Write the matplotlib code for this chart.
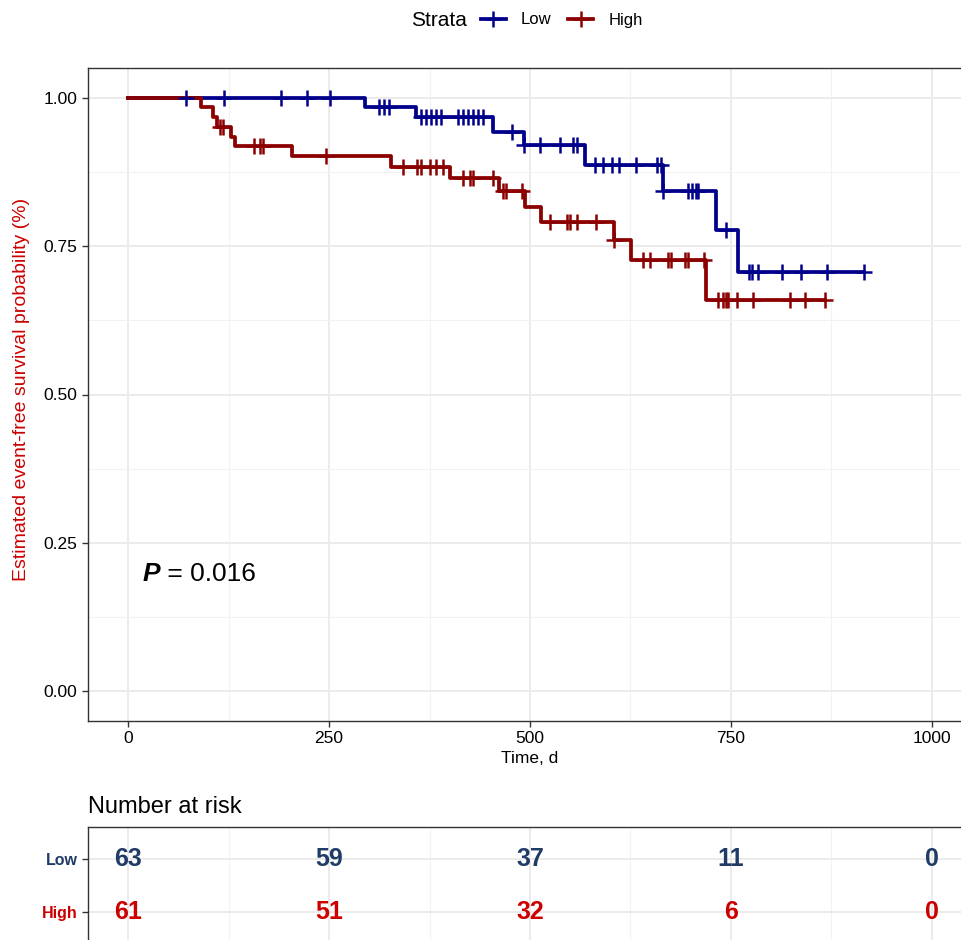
import numpy as np
import matplotlib
matplotlib.use("Agg")
import matplotlib.pyplot as plt
from matplotlib.lines import Line2D

plt.rcParams['font.family'] = ['Liberation Sans', 'DejaVu Sans']

# Kaplan-Meier steps (time in days, survival)
low_times = [0, 295, 358, 454, 493, 568, 665, 731, 759, 916]
low_surv = [1.0, 0.984, 0.967, 0.943, 0.920, 0.886, 0.843, 0.777, 0.707, 0.707]
low_censor = [72, 119, 190, 223, 251, 312, 318, 325, 364, 371, 377, 383, 389,
              410, 417, 423, 429, 435, 442, 478, 493, 513, 537, 553, 558, 581,
              591, 602, 611, 632, 658, 663, 665, 697, 701, 706, 709, 744, 773,
              776, 784, 813, 837, 869, 916]

high_times = [0, 91, 105, 111, 128, 133, 204, 327, 400, 461, 494, 514, 604,
              626, 719, 867]
high_surv = [1.0, 0.984, 0.967, 0.951, 0.934, 0.918, 0.901, 0.884, 0.865,
             0.843, 0.816, 0.790, 0.761, 0.726, 0.659, 0.659]
high_censor = [114, 118, 157, 164, 168, 246, 342, 360, 364, 375, 383, 392,
               417, 425, 429, 454, 466, 470, 490, 525, 546, 550, 558, 582,
               604, 641, 649, 672, 676, 693, 697, 716, 734, 740, 744, 747,
               757, 778, 823, 842, 867]

risk_times = [0, 250, 500, 750, 1000]
risk_low = [63, 59, 37, 11, 0]
risk_high = [61, 51, 32, 6, 0]

strata = ['Low', 'High']
line_cols = ['#00008B', '#8B0000']
table_cols = ['#1F3B66', '#CC0000']


def surv_at(times, surv, t):
    idx = np.searchsorted(times, t, side='right') - 1
    return np.array(surv)[idx]


fig = plt.figure(figsize=(9.62, 9.40), dpi=100)
W, H = 962, 940

ax = fig.add_axes([88 / W, 1 - 721 / H, 884 / W, 653 / H])
ax.set_xlim(-50, 1050)
ax.set_ylim(-0.05, 1.05)
ax.set_xticks([0, 250, 500, 750, 1000])
ax.set_xticks([125, 375, 625, 875], minor=True)
ax.set_yticks([0, 0.25, 0.5, 0.75, 1.0])
ax.set_yticks([0.125, 0.375, 0.625, 0.875], minor=True)
ax.set_yticklabels(['0.00', '0.25', '0.50', '0.75', '1.00'])
ax.grid(which='major', color='#EBEBEB', lw=1.4)
ax.grid(which='minor', color='#F2F2F2', lw=0.8)
ax.set_axisbelow(True)
ax.tick_params(which='major', labelsize=12.5, length=4, width=1, color='#333333', labelcolor='black')
ax.tick_params(which='minor', length=0)
ax.patch.set_edgecolor('none')
for s in ax.spines.values():
    s.set_color('#333333')
    s.set_linewidth(1)
ax.spines['right'].set_visible(False)

for times, surv, col in [(low_times, low_surv, line_cols[0]),
                         (high_times, high_surv, line_cols[1])]:
    ax.step(times, surv, where='post', color=col, lw=2.7, zorder=3)
for times, surv, cens, col in [(low_times, low_surv, low_censor, line_cols[0]),
                               (high_times, high_surv, high_censor, line_cols[1])]:
    ax.plot(cens, surv_at(times, surv, cens), ls='none', marker='+',
            ms=11, mew=1.8, color=col, zorder=4)

ax.set_xlabel('Time, d', fontsize=12.5, labelpad=3)
ax.set_ylabel('Estimated event-free survival probability (%)', fontsize=14,
              color='#CC0000')
ax.yaxis.set_label_coords((30 - 88) / 884, 0.508)

pt = ax.text(18, 0.197, 'P', fontsize=19, fontweight='bold', style='italic',
             va='center')
ax.annotate(' = 0.016', xy=(1, 0), xycoords=pt, fontsize=19, va='bottom')

# legend on top
fig.text(411 / W, 1 - 20 / H, 'Strata', fontsize=15, va='center', ha='left')
handles = [Line2D([0], [0], color=c, lw=2.7, marker='+', ms=11, mew=1.8)
           for c in line_cols]
fig.legend(handles, strata, loc='center left', bbox_to_anchor=(481 / W, 1 - 20 / H),
           ncol=2, frameon=False, fontsize=12, handlelength=1.5,
           handletextpad=0.9, columnspacing=1.0, borderpad=0, borderaxespad=0)

# risk table
tax = fig.add_axes([88 / W, 1 - 944 / H, 884 / W, 117 / H])
tax.set_xlim(-50, 1050)
tax.set_ylim(2.6, 0.4)
tax.set_xticks([0, 250, 500, 750, 1000])
tax.set_xticks([125, 375, 625, 875], minor=True)
tax.set_xticklabels([])
tax.set_yticks([1, 2])
tax.set_yticklabels(strata)
for lab, c in zip(tax.get_yticklabels(), table_cols):
    lab.set_color(c)
    lab.set_fontweight('bold')
    lab.set_fontsize(11.5)
tax.grid(which='major', color='#EBEBEB', lw=1.4)
tax.grid(which='minor', axis='x', color='#F2F2F2', lw=0.8)
tax.set_axisbelow(True)
tax.tick_params(which='major', length=4, width=1, color='#333333')
tax.tick_params(which='minor', length=0)
tax.patch.set_edgecolor('none')
for s in tax.spines.values():
    s.set_color('#333333')
    s.set_linewidth(1)
tax.spines['right'].set_visible(False)
for row, vals in enumerate([risk_low, risk_high]):
    for t, v in zip(risk_times, vals):
        tax.text(t, row + 1, str(v), ha='center', va='center', fontsize=18,
                 fontweight='bold', color=table_cols[row])
tax.set_title('Number at risk', loc='left', fontsize=17, pad=10)

fig.savefig('out.png', dpi=100)
